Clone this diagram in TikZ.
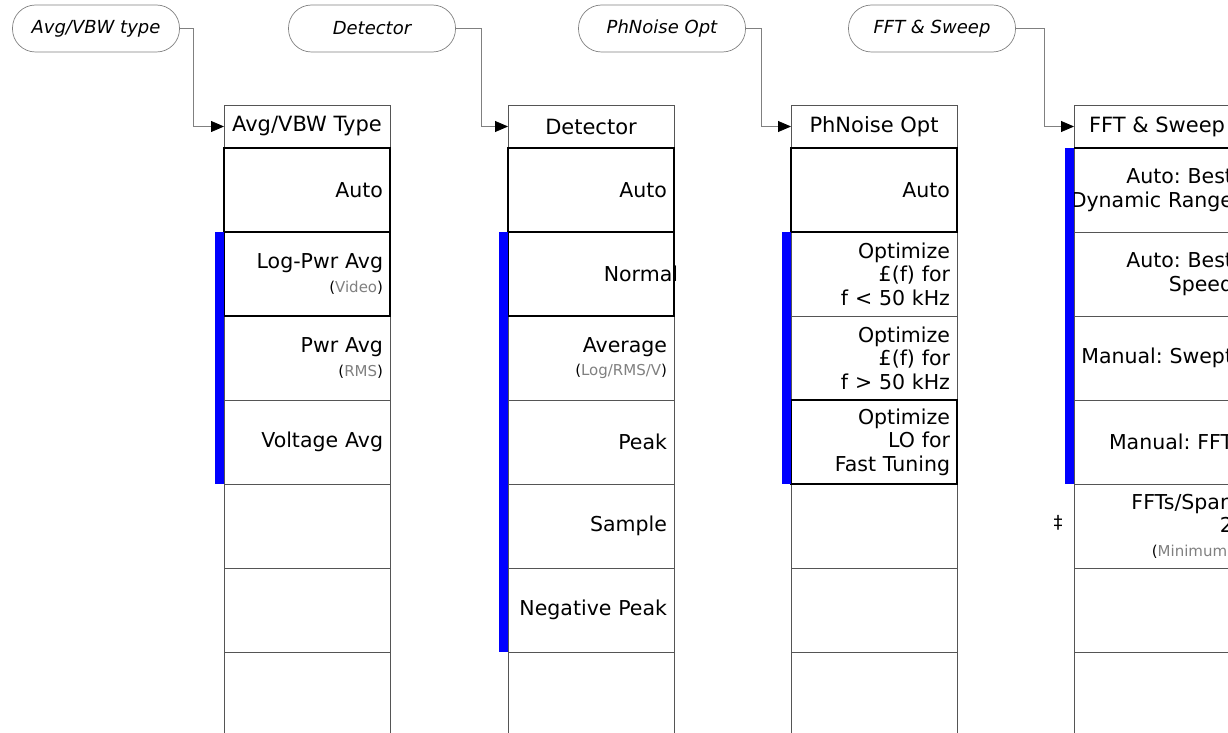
\documentclass[tikz,border=0pt]{standalone}
\usepackage{fontspec}
\setmainfont{DejaVu Sans}
\usepackage{tikz}
\usetikzlibrary{positioning,arrows.meta}
\frenchspacing

\definecolor{keyblue}{RGB}{0,0,255}
\definecolor{rulegray}{RGB}{85,85,85}
\definecolor{linkgray}{RGB}{128,128,128}
\newcommand{\keyfont}{\fontsize{20.5}{23.5}\selectfont}
\newcommand{\titlefont}{\fontsize{21}{24}\selectfont}
\newcommand{\ovalfont}{\fontsize{18}{22}\selectfont\itshape}
\newcommand{\subtext}[1]{{\fontsize{15}{18}\selectfont(\textcolor{gray}{#1})}}
\newcommand{\keyline}[1]{\makebox[152pt][r]{#1}}

\begin{document}
\begin{tikzpicture}[x=1pt, y=-1pt, node distance=0pt,
  softkey/.style={draw=linkgray, line width=0.7pt, rounded corners=23pt,
    minimum width=167pt, minimum height=47pt, inner sep=0pt, font=\ovalfont},
  menutitle/.style={draw=rulegray, line width=0.8pt, minimum width=166pt,
    minimum height=43pt, inner sep=0pt, outer sep=0pt, font=\titlefont},
  menukey/.style={draw=rulegray, line width=0.8pt, minimum width=166pt,
    minimum height=84pt, text width=152pt, align=right, inner sep=0pt,
    outer sep=0pt, font=\keyfont},
  selbox/.style={draw=black, line width=2.8pt},
  link/.style={draw=linkgray, line width=0.8pt,
    -{Triangle[length=13pt, width=11pt, color=black]}},
  bluebar/.style={fill=keyblue}]
  \useasboundingbox (0,0) rectangle (1228,733);
  \clip (0,0) rectangle (1228,733);

  % front panel keys
  \node[softkey] (o1) at (96,28.5) {Avg/VBW type};
  \node[softkey] (o2) at (372,28.5) {Detector};
  \node[softkey] (o3) at (662,28.5) {PhNoise Opt};
  \node[softkey] (o4) at (932,28.5) {FFT \& Sweep};

  % menu titles
  \node[menutitle] (t1) at (307,126.5) {Avg/VBW Type};
  \node[menutitle] (t2) at (591,126.5) {Detector};
  \node[menutitle] (t3) at (874,126.5) {PhNoise Opt};
  \node[menutitle] (t4) at (1157,126.5) {FFT \& Sweep};

  \draw[link] (o1.east) -- ++(14,0) |- (t1.west);
  \draw[link] (o2.east) -- ++(26,0) |- (t2.west);
  \draw[link] (o3.east) -- ++(16,0) |- (t3.west);
  \draw[link] (o4.east) -- ++(29,0) |- (t4.west);

  % Avg/VBW Type
  \node[menukey, below=of t1] (avg1) {Auto};
  \node[menukey, below=of avg1] (avg2) {Log-Pwr Avg\\\subtext{Video}};
  \node[menukey, below=of avg2] (avg3) {Pwr Avg\\\subtext{RMS}};
  \node[menukey, below=of avg3] (avg4) {Voltage Avg};
  \node[menukey, below=of avg4] (avg5) {};
  \node[menukey, below=of avg5] (avg6) {};
  \node[menukey, below=of avg6] (avg7) {};

  % Detector
  \node[menukey, below=of t2] (det1) {Auto};
  \node[menukey, below=of det1] (det2) {Normal\kern-11pt};
  \node[menukey, below=of det2] (det3) {Average\\\subtext{Log/RMS/V}};
  \node[menukey, below=of det3] (det4) {Peak};
  \node[menukey, below=of det4] (det5) {Sample};
  \node[menukey, below=of det5] (det6) {Negative Peak};
  \node[menukey, below=of det6] (det7) {};

  % PhNoise Opt
  \node[menukey, below=of t3] (phn1) {Auto};
  \node[menukey, below=of phn1] (phn2) {Optimize\\£(f) for\\f < 50 kHz};
  \node[menukey, below=of phn2] (phn3) {Optimize\\£(f) for\\f > 50 kHz};
  \node[menukey, below=of phn3] (phn4) {Optimize\\LO for\\Fast Tuning};
  \node[menukey, below=of phn4] (phn5) {};
  \node[menukey, below=of phn5] (phn6) {};
  \node[menukey, below=of phn6] (phn7) {};

  % FFT & Sweep
  \node[menukey, below=of t4] (fft1) {\keyline{Auto: Best}\\\keyline{Dynamic Range}};
  \node[menukey, below=of fft1] (fft2) {\keyline{Auto: Best}\\\keyline{Speed}};
  \node[menukey, below=of fft2] (fft3) {\keyline{Manual: Swept}};
  \node[menukey, below=of fft3] (fft4) {\keyline{Manual: FFT}};
  \node[menukey, below=of fft4] (fft5) {\keyline{FFTs/Span}\\2\\{\fontsize{15}{18}\selectfont(\textcolor{gray}{Minimum})}};
  \node[menukey, below=of fft5] (fft6) {};
  \node[menukey, below=of fft6] (fft7) {};
  \node[font=\fontsize{18}{20}\selectfont] (dag) at (1058,523) {‡};

  % selected keys
  \draw[selbox] (avg1.north west) rectangle (avg1.south east);
  \draw[selbox] (avg2.north west) rectangle (avg2.south east);
  \draw[selbox] (det1.north west) rectangle (det1.south east);
  \draw[selbox] (det2.north west) rectangle (det2.south east);
  \draw[selbox] (phn1.north west) rectangle (phn1.south east);
  \draw[selbox] (phn4.north west) rectangle (phn4.south east);
  \draw[selbox] (fft1.north west) -- (fft1.north east);

  % choice groups
  \fill[bluebar] ([xshift=-9.5pt]avg2.north west) rectangle (avg4.south west);
  \fill[bluebar] ([xshift=-9.5pt]det2.north west) rectangle (det6.south west);
  \fill[bluebar] ([xshift=-9.5pt]phn2.north west) rectangle (phn4.south west);
  \fill[bluebar] ([xshift=-9.5pt]fft1.north west) rectangle (fft4.south west);
\end{tikzpicture}
\end{document}
